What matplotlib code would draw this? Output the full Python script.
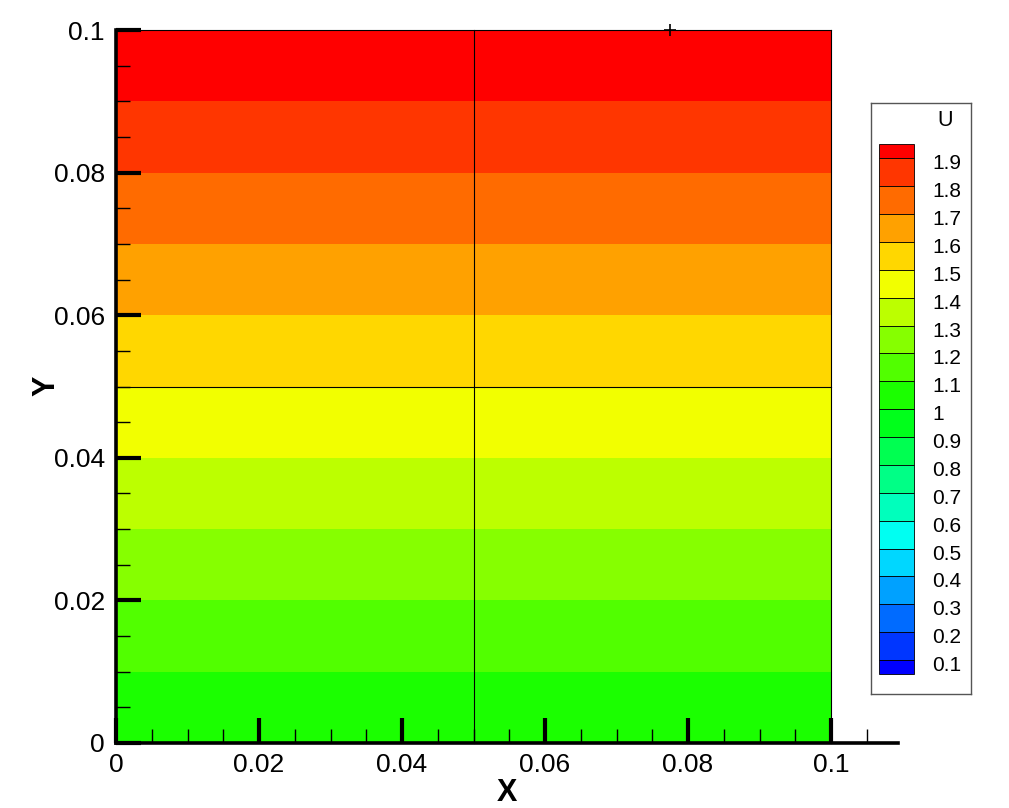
import matplotlib
matplotlib.use("Agg")
import matplotlib.pyplot as plt
from matplotlib.ticker import MultipleLocator
from matplotlib.patches import Rectangle
import numpy as np

plt.rcParams['font.family'] = ['Liberation Sans', 'DejaVu Sans']

# ---- data ----
x_nodes = [0.0, 0.05, 0.1]
y_nodes = [0.0, 0.05, 0.1]
U_values = [[1.0, 1.0, 1.0],
            [1.5, 1.5, 1.5],
            [2.0, 2.0, 2.0]]
levels = [0.0, 0.1, 0.2, 0.3, 0.4, 0.5, 0.6, 0.7, 0.8, 0.9, 1.0,
          1.1, 1.2, 1.3, 1.4, 1.5, 1.6, 1.7, 1.8, 1.9, 2.0]
band_colors = ['#0000FF', '#0036FF', '#006BFF', '#00A1FF', '#00D7FF',
               '#00FFF2', '#00FFBC', '#00FF86', '#00FF51', '#00FF1B',
               '#1BFF00', '#51FF00', '#86FF00', '#BCFF00', '#F2FF00',
               '#FFD700', '#FFA100', '#FF6B00', '#FF3600', '#FF0000']
legend_labels = ['1.9', '1.8', '1.7', '1.6', '1.5', '1.4', '1.3', '1.2', '1.1', '1',
                 '0.9', '0.8', '0.7', '0.6', '0.5', '0.4', '0.3', '0.2', '0.1']
xticks = [0.0, 0.02, 0.04, 0.06, 0.08, 0.1]
xticklabels = ['0', '0.02', '0.04', '0.06', '0.08', '0.1']
yticks = [0.0, 0.02, 0.04, 0.06, 0.08, 0.1]
yticklabels = ['0', '0.02', '0.04', '0.06', '0.08', '0.1']
probe_point = (0.0775, 0.1)

W, H = 1009, 808
fig = plt.figure(figsize=(W / 100, H / 100), dpi=100)
ax_px = (116, 65, 782, 713)  # left, bottom, width, height in pixels
ax = fig.add_axes([ax_px[0] / W, ax_px[1] / H, ax_px[2] / W, ax_px[3] / H])

X, Y = np.meshgrid(x_nodes, y_nodes)
ax.contourf(X, Y, np.array(U_values), levels=levels, colors=band_colors)

# zone mesh lines / boundary
xmin, xmax = x_nodes[0], x_nodes[-1]
ymin, ymax = y_nodes[0], y_nodes[-1]
for xv in x_nodes[1:]:
    ax.plot([xv, xv], [ymin, ymax], color='black', lw=0.8, clip_on=False, zorder=3)
for yv in y_nodes[1:]:
    ax.plot([xmin, xmax], [yv, yv], color='black', lw=0.8, clip_on=False, zorder=3)
ax.plot([probe_point[0]], [probe_point[1]], marker='+', color='black',
        markersize=8, mew=1.2, clip_on=False, zorder=4)

ax.set_xlim(0, 0.10937)
ax.set_ylim(0, 0.1)
for s in ['top', 'right']:
    ax.spines[s].set_visible(False)
for s in ['left', 'bottom']:
    ax.spines[s].set_linewidth(2.6)
    ax.spines[s].set_zorder(5)

ax.set_xticks(xticks)
ax.set_xticklabels(xticklabels)
ax.set_yticks(yticks)
ax.set_yticklabels(yticklabels)
ax.xaxis.set_minor_locator(MultipleLocator(0.005))
ax.yaxis.set_minor_locator(MultipleLocator(0.005))
ax.tick_params(which='major', direction='in', length=18, width=3,
               labelsize=19, pad=7)
ax.tick_params(which='minor', direction='in', length=10, width=1)
ax.tick_params(axis='y', which='major', pad=8)
for t in ax.get_xticklabels() + ax.get_yticklabels():
    t.set_zorder(6)

ax.set_xlabel('X', fontsize=22, fontweight='bold', labelpad=1)
ax.set_ylabel('Y', fontsize=22, fontweight='bold')
ax.yaxis.set_label_coords(-(116 - 61) / 782, (743 - 386) / 713)

# ---- legend box (pixel coordinates) ----
lx0, lx1, ly0, ly1 = 871, 971, 103, 694
lax = fig.add_axes([lx0 / W, (H - ly1) / H, (lx1 - lx0) / W, (ly1 - ly0) / H])
lax.set_xlim(lx0, lx1)
lax.set_ylim(ly1, ly0)
lax.set_xticks([])
lax.set_yticks([])
for s in lax.spines.values():
    s.set_color('#555555')
    s.set_linewidth(1.0)

lax.text(945, 121, 'U', fontsize=15.5, ha='center', va='center')
top_b, bot_b = 158.3, 660.0
step = (bot_b - top_b) / (len(legend_labels) - 1)
half = step / 2
sx0, sx1 = 879, 914
n = len(band_colors)
for i in range(n):
    # i = 0 -> top band (highest)
    k = n - 1 - i
    if i == 0:
        ya, yb = top_b - half, top_b
    elif i == n - 1:
        ya, yb = bot_b, bot_b + half
    else:
        ya, yb = top_b + (i - 1) * step, top_b + i * step
    lax.add_patch(Rectangle((sx0, ya), sx1 - sx0, yb - ya,
                            facecolor=band_colors[k], edgecolor='black', lw=0.6))
for j, lab in enumerate(legend_labels):
    lax.text(932, top_b + j * step + 5.5, lab, fontsize=15, ha='left', va='center')

fig.savefig('out.png', dpi=100)
